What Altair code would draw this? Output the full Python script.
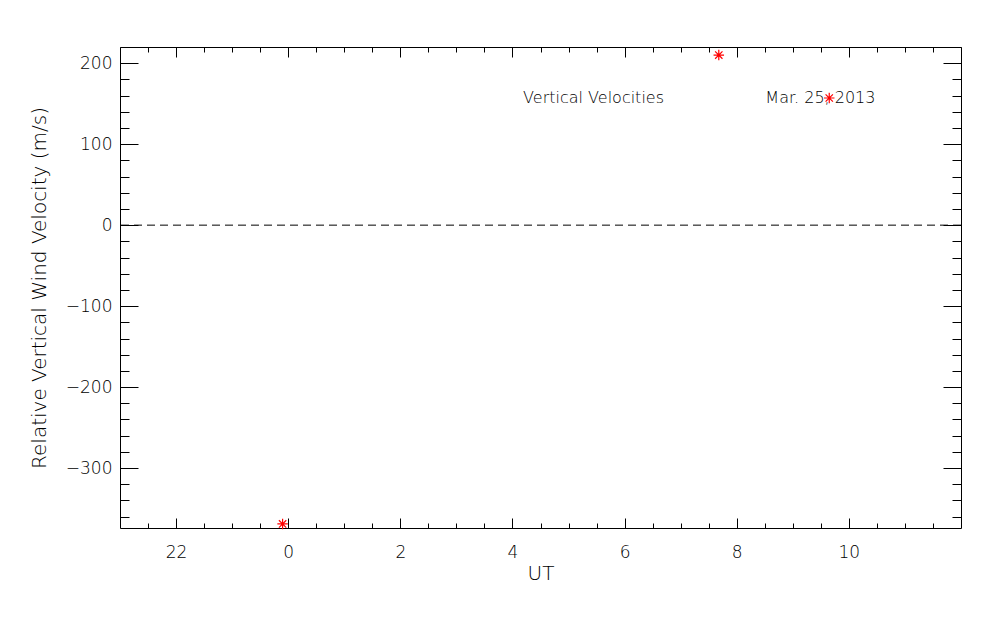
import altair as alt
import pandas as pd

# ---- data ----
ut_hours = [23.9, 7.68, 9.65]          # UT of each measurement (hours)
velocity = [-369, 210, 157]            # relative vertical wind velocity (m/s)

annot_text = ["Vertical Velocities", "Mar. 25, 2013"]
annot_ut = [4.19, 8.51]
annot_vel = [157, 157]

x_domain = [21, 36]                    # 21 UT (Mar 24) .. 12 UT (Mar 25), continuous hours
y_domain = [-374, 220]

x_major = [22, 24, 26, 28, 30, 32, 34]
x_minor = [21.5 + 0.5 * i for i in range(29)]
y_major = [-300, -200, -100, 0, 100, 200]
y_minor = [-360 + 20 * i for i in range(30)]

FONT = "DejaVu Sans"
WEIGHT = 200
STAR = "M0,-1L0,1M-1,0L1,0M-0.7,-0.7L0.7,0.7M-0.7,0.7L0.7,-0.7"


def cont(h):
    return h if h >= x_domain[0] else h + 24


df = pd.DataFrame({"t": [cont(h) for h in ut_hours], "v": velocity})
ann = pd.DataFrame({"t": [cont(h) for h in annot_ut], "v": annot_vel, "label": annot_text})
zero = pd.DataFrame({"v": [0]})

sx = alt.Scale(domain=x_domain, nice=False, zero=False)
sy = alt.Scale(domain=y_domain, nice=False, zero=False)

W, H = 841, 481

# dashed zero line
rule = alt.Chart(zero).mark_rule(color="black", strokeWidth=1, strokeDash=[8, 5]).encode(
    y=alt.Y("v:Q", scale=sy, axis=None)
)

# annotations
texts = alt.Chart(ann).mark_text(
    align="left", baseline="middle", font=FONT, fontSize=16, fontWeight=WEIGHT, color="black"
).encode(
    x=alt.X("t:Q", scale=sx, axis=None),
    y=alt.Y("v:Q", scale=sy, axis=None),
    text="label:N",
)


def tick_layer(xvals, yvals, xorient, yorient, xlen, ylen):
    return alt.Chart(df).mark_point(opacity=0).encode(
        x=alt.X("t:Q", scale=sx, axis=alt.Axis(
            orient=xorient, values=xvals, offset=-xlen, tickSize=xlen, ticks=True,
            labels=False, domain=False, grid=False, title=None,
            tickColor="black", tickWidth=1)),
        y=alt.Y("v:Q", scale=sy, axis=alt.Axis(
            orient=yorient, values=yvals, offset=-ylen, tickSize=ylen, ticks=True,
            labels=False, domain=False, grid=False, title=None,
            tickColor="black", tickWidth=1)),
    )


t1 = tick_layer(x_major, y_major, "bottom", "left", 10, 18)
t2 = tick_layer(x_minor, y_minor, "bottom", "left", 5, 9)
t3 = tick_layer(x_major, y_major, "top", "right", 10, 18)
t4 = tick_layer(x_minor, y_minor, "top", "right", 5, 9)

points = alt.Chart(df).mark_point(
    shape=STAR, size=110, filled=False, color="red", strokeWidth=1.2, opacity=1
).encode(
    x=alt.X("t:Q", scale=sx, axis=alt.Axis(
        orient="bottom", values=x_major, labelExpr="format(datum.value % 24, 'd')",
        ticks=False, tickSize=0, domain=False, grid=False, labelFlush=False,
        labelPadding=16, labelFont=FONT, labelFontSize=17, labelFontWeight=WEIGHT,
        labelColor="black",
        title="UT", titleFont=FONT, titleFontSize=20, titleFontWeight=WEIGHT,
        titleColor="black", titleX=W / 2, titleY=51, titleBaseline="alphabetic",
        titleAlign="center")),
    y=alt.Y("v:Q", scale=sy, axis=alt.Axis(
        orient="left", values=y_major,
        ticks=False, tickSize=0, domain=False, grid=False, labelFlush=False,
        labelPadding=8, labelFont=FONT, labelFontSize=17, labelFontWeight=WEIGHT,
        labelColor="black",
        title="Relative Vertical Wind Velocity (m/s)", titleFont=FONT, titleFontSize=20,
        titleFontWeight=WEIGHT, titleColor="black", titleAngle=270,
        titleX=-75, titleY=H / 2, titleBaseline="alphabetic", titleAlign="center")),
)

chart = alt.layer(rule, texts, t1, t2, t3, t4, points).resolve_scale(
    x="independent", y="independent"
).properties(
    width=W, height=H,
    padding={"left": 112, "top": 39, "right": 30, "bottom": 90},
    autosize=alt.AutoSizeParams(type="none"),
    background="white",
).configure_view(stroke="black", strokeWidth=1)

chart.save("out.html", embed_options={"renderer": "svg", "actions": False})
